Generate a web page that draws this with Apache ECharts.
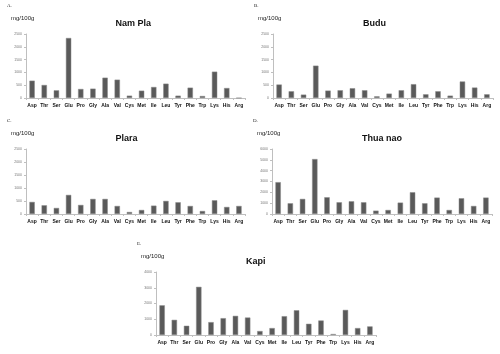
<!DOCTYPE html>
<html>
<head>
<meta charset="utf-8">
<script src="https://cdn.jsdelivr.net/npm/echarts@6/dist/echarts.min.js"></script>
<style>
  html, body { margin: 0; padding: 0; background: #fff; }
  #chart { width: 500px; height: 354px; }
</style>
</head>
<body>
<div id="chart"></div>
<script>
    // amino acids, same order in every panel
    const aminoAcids = ['Asp', 'Thr', 'Ser', 'Glu', 'Pro', 'Gly', 'Ala', 'Val', 'Cys', 'Met',
        'Ile', 'Leu', 'Tyr', 'Phe', 'Trp', 'Lys', 'His', 'Arg'];

    const namPla  = [677, 508, 300, 2344, 352, 365, 794, 716, 91, 286, 430, 560, 91, 404, 78, 1029, 390, 0];
    const budu    = [526, 263, 132, 1263, 289, 303, 382, 303, 66, 171, 303, 540, 145, 263, 92, 645, 408, 145];
    const plara   = [464, 335, 232, 734, 348, 580, 580, 309, 77, 155, 322, 503, 451, 309, 116, 528, 271, 309];
    const thuaNao = [2938, 990, 1392, 5072, 1546, 1083, 1175, 1083, 309, 371, 1052, 2010, 990, 1515, 371, 1454, 742, 1515];
    const kapi    = [1885, 963, 586, 3058, 817, 1068, 1215, 1110, 251, 440, 1194, 1571, 712, 921, 63, 1592, 440, 545];

    const panelNames = ['Nam Pla', 'Budu', 'Plara', 'Thua nao', 'Kapi'];
    const panelLetters = ['A.', 'B.', 'C.', 'D.', 'E.'];
    const panelData = [namPla, budu, plara, thuaNao, kapi];
    const yMax = [2500, 2500, 2500, 6000, 4000];
    const yStep = [500, 500, 500, 1000, 1000];

    // plot boxes
    const boxes = [
        { left: 26, top: 34, width: 219, height: 64 },
        { left: 273, top: 34, width: 220, height: 64 },
        { left: 26, top: 149, width: 219, height: 65 },
        { left: 272, top: 149, width: 220, height: 65 },
        { left: 156, top: 272, width: 220, height: 63 }
    ];

    let myChart = echarts.init(document.getElementById('chart'), null, { renderer: 'canvas' });

    let grids = [], xAxes = [], yAxes = [], series = [], graphics = [];

    boxes.forEach(function (b, i) {
        grids.push({ left: b.left, top: b.top, width: b.width, height: b.height });
        xAxes.push({
            type: 'category',
            gridIndex: i,
            data: aminoAcids,
            axisLine: { lineStyle: { color: '#bfbfbf', width: 1 } },
            axisTick: { show: true, alignWithLabel: false, length: 2, lineStyle: { color: '#bfbfbf' } },
            axisLabel: { color: '#111', fontSize: 5, fontWeight: 'bold', margin: 5, interval: 0, fontFamily: 'Liberation Sans' }
        });
        yAxes.push({
            type: 'value',
            gridIndex: i,
            min: 0,
            max: yMax[i],
            interval: yStep[i],
            splitLine: { show: false },
            axisLine: { show: true, lineStyle: { color: '#bfbfbf', width: 1 } },
            axisTick: { show: true, length: 2, lineStyle: { color: '#bfbfbf' } },
            axisLabel: {
                color: '#777', fontSize: 3.5, margin: 4, fontFamily: 'Liberation Sans',
                formatter: function (v) { return String(v); }
            }
        });
        series.push({
            type: 'bar',
            xAxisIndex: i,
            yAxisIndex: i,
            data: panelData[i],
            barWidth: '44%',
            itemStyle: { color: '#5a5a5a', borderColor: '#8a8a8a', borderWidth: 0.5 },
            silent: true
        });

        // title, unit and panel letter
        graphics.push({
            type: 'text',
            left: b.left + b.width / 2 - 20,
            top: b.top - 15,
            style: { text: panelNames[i], font: 'bold 9px "Liberation Sans"', fill: '#111', width: 40, align: 'center' }
        });
        graphics.push({
            type: 'text',
            left: b.left - 15,
            top: b.top - 19,
            style: { text: 'mg/100g', font: '6px "Liberation Sans"', fill: '#222' }
        });
        graphics.push({
            type: 'text',
            left: b.left - 19,
            top: b.top - 31,
            style: { text: panelLetters[i], font: '5px "Liberation Serif"', fill: '#222' }
        });
    });

    let option = {
        animation: false,
        backgroundColor: '#fff',
        grid: grids,
        xAxis: xAxes,
        yAxis: yAxes,
        series: series,
        graphic: graphics
    };

    myChart.setOption(option, true);
</script>
</body>
</html>
